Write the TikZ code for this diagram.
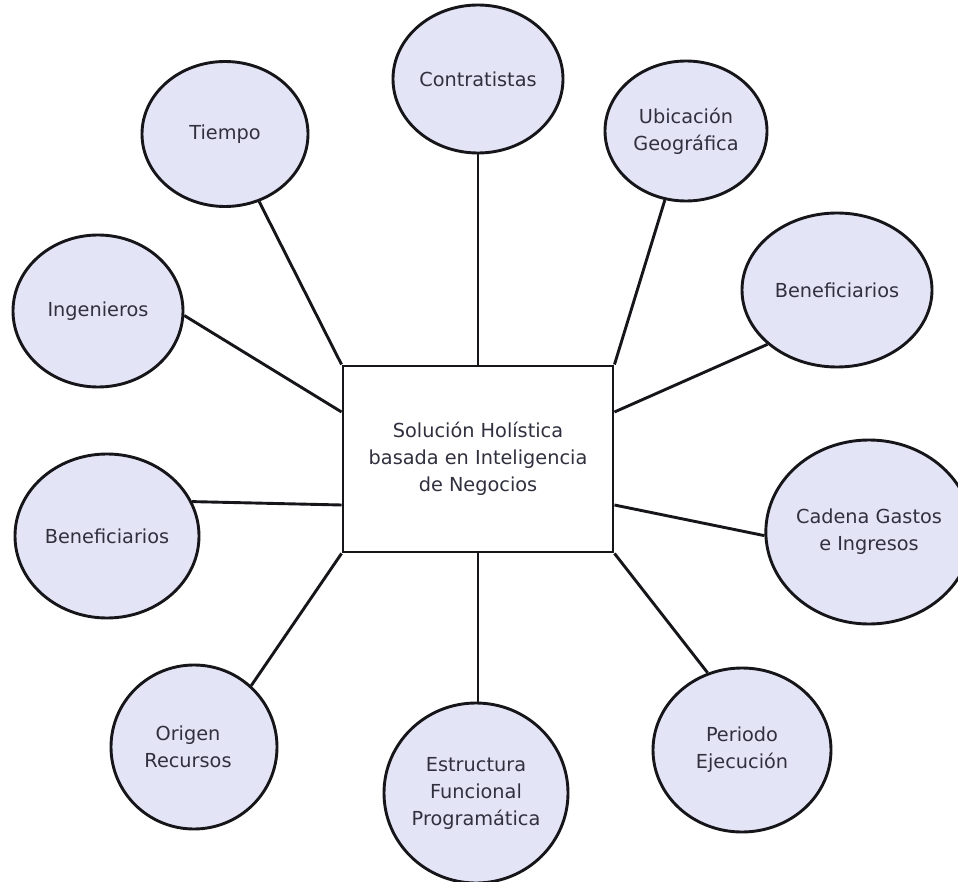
\documentclass[tikz,border=0pt]{standalone}
\usepackage{fontspec}
\setmainfont{DejaVu Sans}
\usetikzlibrary{shapes.geometric}
\definecolor{bubblefill}{RGB}{228,228,247}
\definecolor{ink}{RGB}{22,22,26}
\definecolor{labelgray}{RGB}{48,48,62}
\begin{document}
\begin{tikzpicture}[x=1pt,y=-1pt,
  bubble/.style={ellipse, draw=ink, line width=2.9pt, fill=bubblefill,
    inner sep=0pt, align=center, text=labelgray,
    font=\fontsize{19.3}{27}\selectfont},
  hub/.style={rectangle, draw=ink, line width=2.9pt, fill=white,
    minimum width=270pt, minimum height=186pt, inner sep=0pt,
    align=center, text=labelgray, font=\fontsize{19.3}{27}\selectfont},
  link/.style={draw=ink, line width=2.9pt}]

% canvas
\fill[white] (0,0) rectangle (958,882);
\useasboundingbox (0,0) rectangle (958,882);

% central concept
\node[hub] (c) at (478,459) {Solución Holística\\basada en Inteligencia\\de Negocios};

% surrounding dimensions
\node[bubble, minimum width=170pt, minimum height=148pt] (con) at (478,79) {Contratistas};
\node[bubble, minimum width=166pt, minimum height=145pt] (tie) at (225,134) {Tiempo};
\node[bubble, minimum width=162pt, minimum height=140pt] (ubi) at (686,131) {Ubicación\\Geográfica};
\node[bubble, minimum width=170pt, minimum height=152pt] (ing) at (98,311) {Ingenieros};
\node[bubble, minimum width=190pt, minimum height=154pt] (benr) at (837,290) {Beneficiarios};
\node[bubble, minimum width=184pt, minimum height=164pt] (benl) at (107,536) {Beneficiarios};
\node[bubble, minimum width=178pt, minimum height=184pt] (cad) at (869,532) {Cadena Gastos\\e Ingresos};
\node[bubble, minimum width=166pt, minimum height=164pt] (ori) at (194,747) {\hspace*{-12pt}Origen\\\hspace*{-12pt}Recursos};
\node[bubble, minimum width=184pt, minimum height=180pt] (est) at (476,793) {Estructura\\Funcional\\Programática};
\node[bubble, minimum width=178pt, minimum height=164pt] (per) at (742,750) {Periodo\\Ejecución};

% connectors
\draw[link] (con) -- (c.north);
\draw[link] (tie) -- (c.north west);
\draw[link] (ubi) -- (c.north east);
\draw[link] (ing.-3) -- ([yshift=47pt]c.west);
\draw[link] (benr.218) -- ([yshift=47pt]c.east);
\draw[link] (benl.22) -- ([yshift=-46pt]c.west);
\draw[link] (cad.182) -- ([yshift=-46pt]c.east);
\draw[link] (ori.47) -- (c.south west);
\draw[link] (est.north -| c.south) -- (c.south);
\draw[link] (per.114) -- (c.south east);
\end{tikzpicture}
\end{document}
